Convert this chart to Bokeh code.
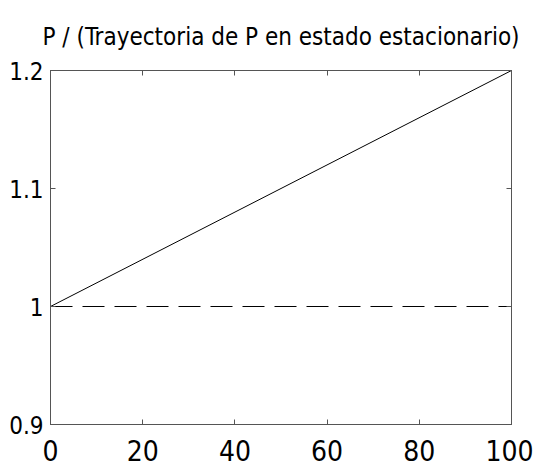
from bokeh.plotting import figure
from bokeh.models import LinearAxis, Range1d, FixedTicker
from bokeh.embed import file_html
from bokeh.resources import INLINE

# Data
t = [0, 100]
p_ratio = [1.0, 1.2]
steady = [1.0, 1.0]
x_ticks = [0, 20, 40, 60, 80, 100]
y_ticks = [0.9, 1.0, 1.1, 1.2]
y_labels = {0.9: "0.9", 1.0: "1", 1.1: "1.1", 1.2: "1.2"}
title_text = "P / (Trayectoria de P en estado estacionario)"

FONT = "DejaVu Sans Condensed"

p = figure(width=533, height=473, output_backend="svg", toolbar_location=None,
           x_range=Range1d(0, 100), y_range=Range1d(0.9, 1.2),
           min_border_left=50, min_border_right=22, min_border_top=69, min_border_bottom=49,
           title=title_text)
p.title.align = "center"
p.title.text_font = FONT
p.title.text_font_size = "24px"
p.title.text_font_style = "normal"
p.title.text_color = "black"
p.title.standoff = 40
p.grid.visible = False
p.outline_line_color = "#555555"
p.outline_line_width = 1

p.line(t, p_ratio, line_color="black", line_width=1)
p.line(t, steady, line_color="black", line_width=1, line_dash="22 10")

for ax in (p.xaxis[0], p.yaxis[0]):
    ax.major_tick_in = 5
    ax.major_tick_out = 0
    ax.minor_tick_line_color = None
    ax.axis_line_color = "#555555"
    ax.major_tick_line_color = "#555555"
    ax.major_label_text_font = FONT
    ax.major_label_text_color = "black"

p.xaxis[0].ticker = FixedTicker(ticks=x_ticks)
p.xaxis[0].major_label_text_font_size = "28px"
p.xaxis[0].major_label_standoff = 15
p.yaxis[0].ticker = FixedTicker(ticks=y_ticks)
p.yaxis[0].major_label_overrides = y_labels
p.yaxis[0].major_label_text_font_size = "24px"
p.yaxis[0].major_label_standoff = 7

top = LinearAxis(ticker=FixedTicker(ticks=x_ticks), major_label_text_font_size="0px",
                 major_tick_in=5, major_tick_out=0, minor_tick_line_color=None,
                 axis_line_color="#555555", major_tick_line_color="#555555")
right = LinearAxis(ticker=FixedTicker(ticks=y_ticks), major_label_text_font_size="0px",
                   major_tick_in=5, major_tick_out=0, minor_tick_line_color=None,
                   axis_line_color="#555555", major_tick_line_color="#555555")
top.major_label_text_alpha = 0
right.major_label_text_alpha = 0
p.add_layout(top, "above")
p.add_layout(right, "right")

open("out.html", "w").write(file_html(p, INLINE))
